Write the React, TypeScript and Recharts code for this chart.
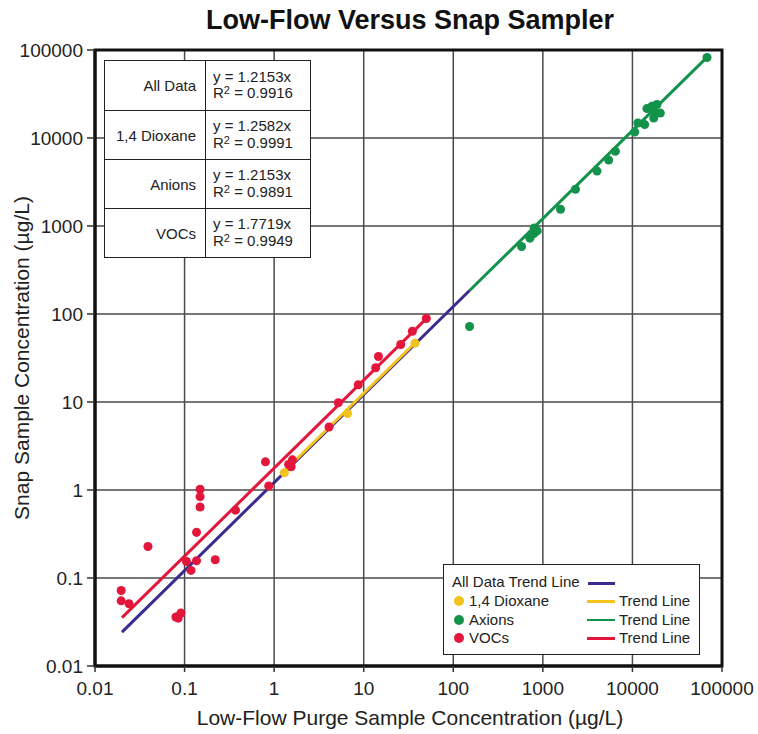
import { CartesianGrid, ReferenceArea, ReferenceLine, Scatter, ScatterChart, XAxis, YAxis, ZAxis } from 'recharts'

const axisTicks = [0.01, 0.1, 1, 10, 100, 1000, 10000, 100000]

// VOCs (red)
const vocX = [0.0196, 0.0196, 0.024, 0.039, 0.08, 0.085, 0.091, 0.105, 0.118, 0.136, 0.136, 0.149, 0.149, 0.149, 0.22, 0.37, 0.8, 0.87, 1.45, 1.6, 1.55, 4.1, 5.2, 8.7, 13.6, 14.6, 25.9, 34.9, 50]
const vocY = [0.072, 0.055, 0.051, 0.228, 0.036, 0.035, 0.04, 0.154, 0.122, 0.157, 0.33, 0.64, 0.84, 1.02, 0.161, 0.59, 2.09, 1.11, 1.95, 2.2, 1.84, 5.2, 9.8, 15.7, 24.5, 32.9, 45, 63.7, 89]

// 1,4 Dioxane (yellow)
const dioxaneX = [1.3, 6.6, 37.4]
const dioxaneY = [1.57, 7.4, 46.6]

// Anions (green)
const anionX = [152, 579, 717, 794, 865, 800, 1574, 2312, 4027, 5433, 6450, 10600, 11500, 13700, 14500, 16500, 18000, 17300, 20500, 18800, 68000]
const anionY = [72, 585, 728, 820, 880, 950, 1550, 2613, 4207, 5610, 7080, 11700, 14800, 14200, 21600, 22900, 19200, 16900, 19200, 24000, 82200]

// trend lines y = slope * x
const trendNames = ['All Data', '1,4 Dioxane', 'Anions', 'VOCs']
const trendSlopes = [1.2153, 1.2582, 1.2153, 1.7719]
const trendFrom = [0.02, 1.3, 152, 0.02]
const trendTo = [152, 39, 71000, 52]
const trendColors = ['#3b2a8f', '#f2c31b', '#12924a', '#e3173b']

// inset table
const tableLabels = ['All Data', '1,4 Dioxane', 'Anions', 'VOCs']
const tableEquations = ['y = 1.2153x', 'y = 1.2582x', 'y = 1.2153x', 'y = 1.7719x']
const tableR2 = ['0.9916', '0.9991', '0.9891', '0.9949']

// legend
const legendSeries = ['1,4 Dioxane', 'Axions', 'VOCs']
const legendColors = ['#f2c31b', '#12924a', '#e3173b']

const toPoints = (xs: number[], ys: number[]) => xs.map((x, i) => ({ x, y: ys[i] }))

const font = 'Arial, "Liberation Sans", Helvetica, sans-serif'

export default function App() {
  const vocs = toPoints(vocX, vocY)
  const dioxane = toPoints(dioxaneX, dioxaneY)
  const anions = toPoints(anionX, anionY)

  return (
    <div style={{ position: 'absolute', left: 0, top: 0, width: 758, height: 734, background: '#fff', fontFamily: font }}>
      <div
        style={{
          position: 'absolute',
          left: 0,
          width: 820,
          top: 5,
          textAlign: 'center',
          fontSize: 27,
          fontWeight: 'bold',
          color: '#111',
        }}
      >
        Low-Flow Versus Snap Sampler
      </div>

      <ScatterChart width={758} height={734} margin={{ top: 50, right: 36, bottom: 0, left: 0 }}>
        <CartesianGrid stroke="#4a4a4a" strokeWidth={1.5} />
        <XAxis
          type="number"
          dataKey="x"
          scale="log"
          domain={[0.01, 100000]}
          ticks={axisTicks}
          allowDataOverflow
          height={68}
          tickSize={6}
          tickMargin={10}
          axisLine={{ stroke: '#111', strokeWidth: 3 }}
          tickLine={{ stroke: '#333', strokeWidth: 1.5 }}
          tick={{ fill: '#222', fontSize: 19, fontFamily: font }}
        />
        <YAxis
          type="number"
          dataKey="y"
          scale="log"
          domain={[0.01, 100000]}
          ticks={axisTicks}
          allowDataOverflow
          width={95}
          tickSize={8}
          tickMargin={4}
          axisLine={{ stroke: '#111', strokeWidth: 3 }}
          tickLine={{ stroke: '#333', strokeWidth: 1.5 }}
          tick={{ fill: '#222', fontSize: 19, fontFamily: font }}
        />
        <ZAxis range={[100, 100]} />
        <ReferenceArea x1={0.01} x2={100000} y1={0.01} y2={100000} fill="none" stroke="#111" strokeWidth={3} ifOverflow="visible" />
        {trendNames.map((name, i) => (
          <ReferenceLine
            key={name}
            segment={[
              { x: trendFrom[i], y: trendFrom[i] * trendSlopes[i] },
              { x: trendTo[i], y: trendTo[i] * trendSlopes[i] },
            ]}
            stroke={trendColors[i]}
            strokeWidth={3}
            ifOverflow="visible"
          />
        ))}
        <Scatter name="Anions" data={anions} fill="#12924a" isAnimationActive={false} />
        <Scatter name="VOCs" data={vocs} fill="#e3173b" isAnimationActive={false} />
        <Scatter name="1,4 Dioxane" data={dioxane} fill="#f2c31b" isAnimationActive={false} />
      </ScatterChart>

      {/* y axis title */}
      <div
        style={{
          position: 'absolute',
          left: 22,
          top: 358,
          transform: 'translate(-50%, -50%) rotate(-90deg)',
          whiteSpace: 'nowrap',
          fontSize: 21,
          color: '#222',
        }}
      >
        Snap Sample Concentration (µg/L)
      </div>
      {/* x axis title */}
      <div
        style={{
          position: 'absolute',
          left: 410,
          top: 718,
          transform: 'translate(-50%, -50%)',
          whiteSpace: 'nowrap',
          fontSize: 21,
          color: '#222',
        }}
      >
        Low-Flow Purge Sample Concentration (µg/L)
      </div>

      {/* equation table */}
      <div
        style={{
          position: 'absolute',
          left: 104,
          top: 60,
          width: 207,
          height: 198,
          boxSizing: 'border-box',
          border: '1.5px solid #222',
          background: '#fff',
          display: 'grid',
          gridTemplateColumns: '101px 1fr',
          gridTemplateRows: 'repeat(4, 1fr)',
          fontSize: 15,
          color: '#222',
        }}
      >
        {tableLabels.map((label, i) => [
          <div
            key={label + 'a'}
            style={{
              borderRight: '1.5px solid #222',
              borderTop: i ? '1.5px solid #222' : 'none',
              display: 'flex',
              alignItems: 'center',
              justifyContent: 'flex-end',
              paddingRight: 9,
            }}
          >
            {label}
          </div>,
          <div
            key={label + 'b'}
            style={{
              borderTop: i ? '1.5px solid #222' : 'none',
              display: 'flex',
              flexDirection: 'column',
              justifyContent: 'center',
              paddingLeft: 7,
              lineHeight: '16.5px',
            }}
          >
            <span>{tableEquations[i]}</span>
            <span>
              R<span style={{ fontSize: 11, position: 'relative', top: -4 }}>2</span> = {tableR2[i]}
            </span>
          </div>,
        ])}
      </div>

      {/* legend */}
      <div
        style={{
          position: 'absolute',
          left: 443,
          top: 564,
          width: 257,
          height: 91,
          boxSizing: 'border-box',
          border: '1.5px solid #222',
          background: '#fff',
          fontSize: 15,
          color: '#222',
        }}
      >
        <div style={{ position: 'absolute', left: 8, top: 8, lineHeight: '18px', whiteSpace: 'nowrap' }}>
          All Data Trend Line
        </div>
        <div style={{ position: 'absolute', left: 144, top: 17, width: 27, height: 2.5, background: trendColors[0] }} />
        {legendSeries.map((s, i) => (
          <div key={s}>
            <div
              style={{
                position: 'absolute',
                left: 10,
                top: 31 + i * 18.6,
                width: 10,
                height: 10,
                borderRadius: '50%',
                background: legendColors[i],
              }}
            />
            <div style={{ position: 'absolute', left: 25, top: 27 + i * 18.6, lineHeight: '18px', whiteSpace: 'nowrap' }}>
              {s}
            </div>
            <div
              style={{
                position: 'absolute',
                left: 143,
                top: 35 + i * 18.6,
                width: 28,
                height: 2.5,
                background: trendColors[i + 1],
              }}
            />
            <div style={{ position: 'absolute', left: 175, top: 27 + i * 18.6, lineHeight: '18px', whiteSpace: 'nowrap' }}>
              Trend Line
            </div>
          </div>
        ))}
      </div>
    </div>
  )
}
